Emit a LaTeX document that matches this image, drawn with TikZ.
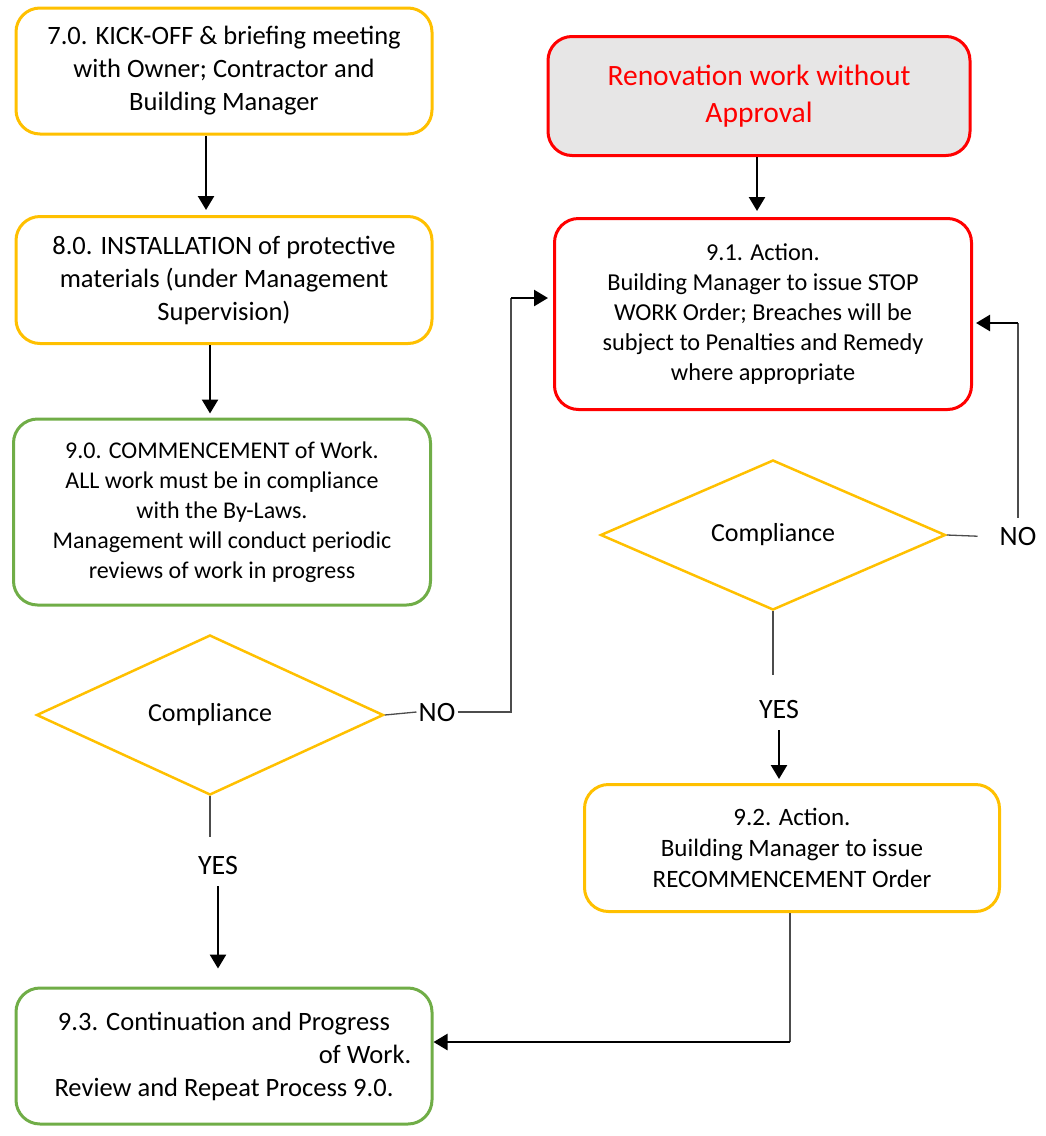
\documentclass[tikz,border=0pt]{standalone}
\usepackage{fontspec}
\setmainfont{Carlito}
\usetikzlibrary{arrows.meta,shapes.geometric}

\definecolor{boxorange}{HTML}{FFC000}
\definecolor{boxgreen}{HTML}{70AD47}
\definecolor{boxred}{HTML}{FF0000}
\definecolor{boxgray}{HTML}{E7E6E6}

\tikzset{
  box/.style={draw, rounded corners=24pt, line width=3pt, minimum width=416pt, minimum height=126pt,
    align=center, inner sep=0pt, font=\fontsize{26.5}{33}\selectfont},
  obox/.style={box, draw=boxorange},
  gbox/.style={box, draw=boxgreen},
  rbox/.style={box, draw=boxred},
  dec/.style={diamond, draw=boxorange, line width=2.5pt, inner sep=0pt,
    minimum width=347pt, minimum height=160pt, font=\fontsize{26}{30}\selectfont},
  lbl/.style={inner sep=2pt, font=\fontsize{28}{30}\selectfont},
  arr/.style={line width=2.5pt, -{Triangle[length=14pt,width=16pt]}},
  ln/.style={line width=1.3pt, black!70}
}

\begin{document}
\begin{tikzpicture}[x=1pt, y=-1pt]
	\useasboundingbox (0,0) rectangle (1046,1136);

	% left column
	\node[obox] (k70) at (224,71) {7.0. KICK-OFF \& briefing meeting\\with Owner; Contractor and\\Building Manager};
	\node[obox, minimum height=127pt] (i80) at (224,280) {8.0. INSTALLATION of protective\\materials (under Management\\Supervision)};
	\node[gbox, minimum width=417pt, minimum height=186pt, font=\fontsize{24}{30}\selectfont] (c90) at (222,512)
		{9.0. COMMENCEMENT of Work.\\ALL work must be in compliance\\with the By-Laws.\\Management will conduct periodic\\reviews of work in progress};
	\node[dec] (dl) at (210,715) {Compliance};
	\node[lbl] (noL) at (437,712) {NO};
	\node[lbl] (yesL) at (218,865) {YES};
	\node[gbox, minimum height=136pt] (b93) at (224,1056)
		{9.3. Continuation and Progress\\\hspace*{282pt}of Work.\\Review and Repeat Process 9.0.};

	% right column
	\node[rbox, fill=boxgray, text=boxred, minimum width=422pt, minimum height=119pt,
		font=\fontsize{29.5}{37}\selectfont] (rnv) at (759,96) {Renovation work without\\Approval};
	\node[rbox, minimum width=417pt, minimum height=191pt, font=\fontsize{24.3}{30}\selectfont] (a91) at (763,314)
		{9.1. Action.\\Building Manager to issue STOP\\WORK Order; Breaches will be\\subject to Penalties and Remedy\\where appropriate};
	\node[dec, minimum width=345pt, minimum height=150pt] (dr) at (773,535) {Compliance};
	\node[lbl] (noR) at (1018,537) {NO};
	\node[lbl] (yesR) at (779,710) {YES};
	\node[obox, minimum width=415pt, minimum height=127pt, font=\fontsize{25}{31}\selectfont] (b92) at (792,848)
		{9.2. Action.\\Building Manager to issue\\RECOMMENCEMENT Order};

	\coordinate (cL) at (511,298);
	\coordinate (cR) at (1018,323);
	\coordinate (cB) at (790,1042);

	% connectors
	\draw[arr, shorten >=5pt] ([xshift=-18pt]k70.south) -- ([xshift=-18pt]k70.south |- i80.north);
	\draw[arr, shorten >=4pt] ([xshift=-14pt]i80.south) -- ([xshift=-14pt]i80.south |- c90.north);
	\draw[ln] (dl.east) -- (noL.west);
	\draw[ln] (noL.east) -| (cL);
	\draw[arr, shorten >=5pt] (cL) -- (cL -| a91.west);
	\draw[ln, shorten >=17pt] (dl.south) -- (dl.south |- yesL.north);
	\draw[arr, shorten <=10pt, shorten >=18pt] (yesL.south) -- (yesL.south |- b93.north);

	\draw[arr, shorten >=6pt] ([xshift=-2pt]rnv.south) -- ([xshift=-2pt]rnv.south |- a91.north);
	\draw[ln, shorten >=20pt] (dr.east) -- (noR.west);
	\draw[ln, shorten <=8pt] (noR.north) -- (cR);
	\draw[arr, shorten >=3pt] (cR) -- (cR -| a91.east);
	\draw[ln, shorten >=24pt] (dr.south) -- (dr.south |- yesR.north);
	\draw[arr, shorten <=9pt, shorten >=4pt] (yesR.south) -- (yesR.south |- b92.north);
	\draw[ln] (b92.south -| cB) -- (cB);
	\draw[arr] (cB) -- (cB -| b93.east);
\end{tikzpicture}
\end{document}
